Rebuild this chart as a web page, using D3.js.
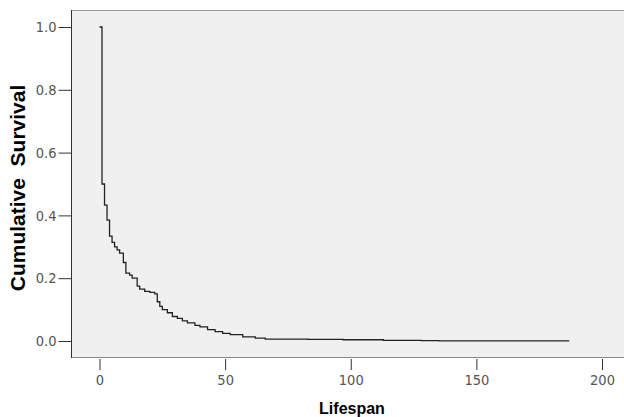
<!DOCTYPE html>
<html>
<head>
<meta charset="utf-8">
<script src="https://cdn.jsdelivr.net/npm/d3@7"></script>
<style>
  body { margin: 0; background: #fff; }
  .tick text { font-family: "DejaVu Sans Condensed", "DejaVu Sans", sans-serif; font-stretch: condensed; font-size: 14.5px; fill: #555; }
  .lbl { font-family: "Liberation Sans", Arial, sans-serif; font-weight: bold; fill: #000; }
</style>
</head>
<body>
<svg width="624" height="417"></svg>
<script>
// Kaplan-Meier steps: time and survival after each drop
var times = [0, 1, 2, 3, 4, 5, 6, 7, 8, 9.5, 10.5, 12, 13, 15, 16, 18, 20, 22, 23, 24, 25, 27, 29, 31, 33, 35, 38, 40, 43, 46, 49, 52, 57, 62, 66, 83, 97, 113, 128, 135, 187];
var survival = [1, 0.5, 0.433, 0.385, 0.334, 0.314, 0.30, 0.29, 0.28, 0.25, 0.216, 0.21, 0.20, 0.175, 0.165, 0.158, 0.155, 0.15, 0.125, 0.11, 0.10, 0.09, 0.078, 0.072, 0.064, 0.058, 0.05, 0.045, 0.036, 0.03, 0.024, 0.02, 0.013, 0.009, 0.006, 0.005, 0.004, 0.002, 0.001, 0.0005, 0.0005];
var xTicks = [0, 50, 100, 150, 200];
var yTicks = [0, 0.2, 0.4, 0.6, 0.8, 1.0];

function paint() {
  var svg = d3.select('svg');

  const box = { left: 71, top: 10, right: 624, bottom: 357 };

  const xScale = d3.scaleLinear().domain([0, 200]).range([99.5, 602]);
  const yScale = d3.scaleLinear().domain([0, 1]).range([341, 27]);

  // plot background
  svg.append('rect')
    .attr('x', box.left).attr('y', box.top)
    .attr('width', box.right - box.left).attr('height', box.bottom - box.top)
    .attr('fill', '#f0f0f0');

  svg.append('line')
    .attr('x1', box.left).attr('x2', box.right)
    .attr('y1', box.top + 0.5).attr('y2', box.top + 0.5)
    .attr('stroke', '#999');
  svg.append('line')
    .attr('x1', box.left).attr('x2', box.right)
    .attr('y1', box.bottom + 0.5).attr('y2', box.bottom + 0.5)
    .attr('stroke', '#888');
  svg.append('line')
    .attr('x1', box.left + 0.5).attr('x2', box.left + 0.5)
    .attr('y1', box.top).attr('y2', box.bottom + 1)
    .attr('stroke', '#333');

  // axes
  const yAxis = svg.append('g')
    .attr('transform', `translate(${box.left + 0.5}, 0)`)
    .call(d3.axisLeft(yScale).tickValues(yTicks).tickFormat(d3.format('.1f')).tickSize(13).tickPadding(2));
  yAxis.select('.domain').remove();
  yAxis.selectAll('.tick line').attr('stroke', '#333');

  const xAxis = svg.append('g')
    .attr('transform', `translate(0, ${box.bottom + 2})`)
    .call(d3.axisBottom(xScale).tickValues(xTicks).tickSizeInner(11).tickPadding(5));
  xAxis.select('.domain').remove();
  xAxis.selectAll('.tick line').attr('stroke', '#333');

  // survival curve
  const pts = times.map((t, i) => [t, survival[i]]);
  const line = d3.line()
    .x(d => xScale(d[0]))
    .y(d => yScale(d[1]))
    .curve(d3.curveStepAfter);

  svg.append('path')
    .datum(pts)
    .attr('d', line)
    .attr('fill', 'none')
    .attr('stroke', '#222')
    .attr('stroke-width', 1.3);

  // labels
  svg.append('text')
    .attr('class', 'lbl')
    .attr('x', 352).attr('y', 414)
    .attr('text-anchor', 'middle')
    .attr('font-size', '16px')
    .text('Lifespan');

  svg.append('text')
    .attr('class', 'lbl')
    .attr('transform', 'translate(25, 188) rotate(-90)')
    .attr('text-anchor', 'middle')
    .attr('font-size', '21px')
    .attr('xml:space', 'preserve')
    .style('white-space', 'pre')
    .text('Cumulative  Survival');
}

paint();
</script>
</body>
</html>
